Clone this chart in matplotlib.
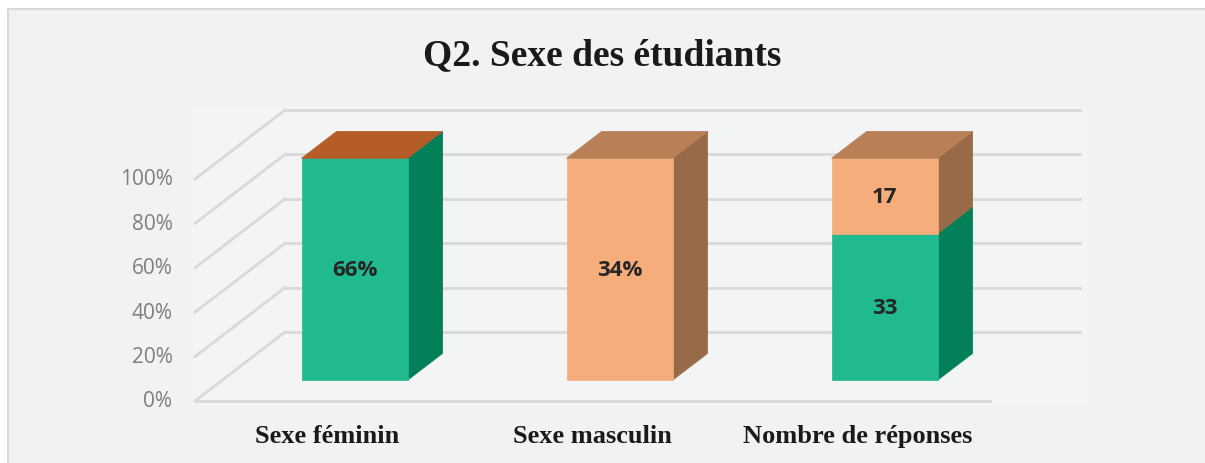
import matplotlib.pyplot as plt
from matplotlib.patches import Polygon, Rectangle

# data
categories = ["Sexe féminin", "Sexe masculin", "Nombre de réponses"]
green_vals = [66, 0, 33]      # Sexe féminin series
orange_vals = [0, 34, 17]     # Sexe masculin series
labels_green = ["66%", "", "33"]
labels_orange = ["", "34%", "17"]
ticks = [0, 20, 40, 60, 80, 100]
tick_labels = ["0%", "20%", "40%", "60%", "80%", "100%"]

# colours
g_front, g_side, g_top = "#21b98f", "#037f5a", "#b65c27"
o_front, o_side, o_top = "#f5ad7b", "#996a48", "#b98058"
grid_c = "#d9d9d9"

# oblique 3D projection in data units
DX, DY = 0.34, 31.1           # full depth offset
D0, D1 = 0.30, 0.69           # bar front / back depth
W = 0.4


def proj(x, y, d):
    return (x + d * DX, y + d * DY)


fig = plt.figure(figsize=(12.05, 4.64), dpi=100)
fig.patch.set_facecolor("white")
ax = fig.add_axes([0, 0, 1, 1])
x_lo, x_hi = -1.2358, 3.3113
y_lo, y_hi = -27.93, 181.08
ax.set_xlim(x_lo, x_hi)
ax.set_ylim(y_lo, y_hi)
ax.axis("off")

# chart frame (top and left border only)
fx = x_lo + 8 / 265
fy = y_hi - 10 / 2.22
ax.add_patch(Rectangle((fx, y_lo - 5), x_hi - fx + 1, fy - y_lo + 5,
                       facecolor="#f1f2f4", edgecolor="none", zorder=0))
ax.plot([fx, fx, x_hi + 1], [y_lo - 5, fy, fy], color="#d9d9d9", lw=1.5, zorder=0.2)
ax.add_patch(Rectangle((-0.52, -2), 3.02 + DX + 0.03, 134.5, facecolor="#f3f4f4",
                       edgecolor="none", zorder=0.5))

# walls / gridlines
for t, lab in zip(ticks, tick_labels):
    p0 = proj(-0.5, t, 0)
    p1 = proj(-0.5, t, 1)
    p2 = proj(2.5, t, 1)
    ax.plot([p0[0], p1[0]], [p0[1], p1[1]], color=grid_c, lw=2, zorder=1)
    ax.plot([p1[0], p2[0]], [p1[1], p2[1]], color=grid_c, lw=2, zorder=1)
    ax.text(-0.585, t, lab, ha="right", va="center",
            fontsize=15, color="#7f7f7f", family="Open Sans")
f0 = proj(-0.5, 0, 0)
f1 = proj(2.5, 0, 0)
ax.plot([f0[0], f1[0]], [f0[1], f1[1]], color=grid_c, lw=2, zorder=1)


def box(xc, y0, y1, front, side, top, draw_top):
    xl, xr = xc - W / 2, xc + W / 2
    fr = [proj(xl, y0, D0), proj(xr, y0, D0), proj(xr, y1, D0), proj(xl, y1, D0)]
    sd = [proj(xr, y0, D0), proj(xr, y0, D1), proj(xr, y1, D1), proj(xr, y1, D0)]
    ax.add_patch(Polygon(sd, closed=True, facecolor=side, edgecolor=side, lw=0.5, zorder=3))
    ax.add_patch(Polygon(fr, closed=True, facecolor=front, edgecolor=front, lw=0.5, zorder=4))
    if draw_top:
        tp = [proj(xl, y1, D0), proj(xr, y1, D0), proj(xr, y1, D1), proj(xl, y1, D1)]
        ax.add_patch(Polygon(tp, closed=True, facecolor=top, edgecolor=top, lw=0.5, zorder=4))


for i in range(len(categories)):
    total = green_vals[i] + orange_vals[i]
    g = 100 * green_vals[i] / total
    o = 100 * orange_vals[i] / total
    if g > 0:
        box(i, 0, g, g_front, g_side, g_top, o == 0)
    if o > 0:
        box(i, g, g + o, o_front, o_side, o_top, True)
    cx = i + D0 * DX
    if labels_green[i]:
        ax.text(cx, g / 2 + D0 * DY, labels_green[i], ha="center", va="center",
                fontsize=16, fontweight="bold", color="#262626", family="Open Sans", zorder=6)
    if labels_orange[i]:
        ax.text(cx, g + o / 2 + D0 * DY, labels_orange[i], ha="center", va="center",
                fontsize=16, fontweight="bold", color="#262626", family="Open Sans", zorder=6)
    ax.text(i, -15.5, categories[i], ha="center", va="center", fontsize=19,
            fontweight="bold", color="#1a1a1a", family="Liberation Serif")

ax.text(0.5 * (x_lo + x_hi), 156, "Q2. Sexe des étudiants", ha="center", va="center",
        fontsize=27, fontweight="bold", color="#1a1a1a", family="Liberation Serif")

fig.savefig("out.png", dpi=100)
